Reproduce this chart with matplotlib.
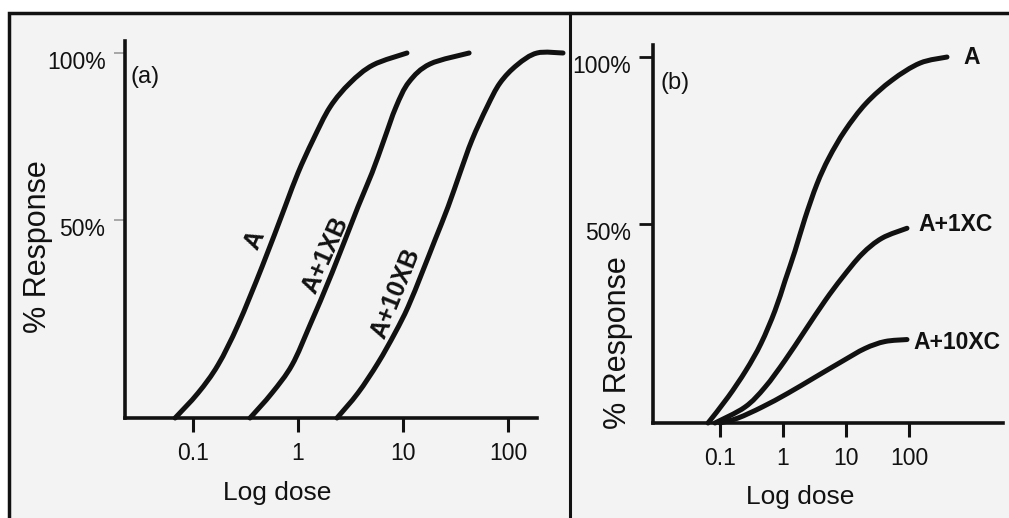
import numpy as np
import matplotlib
matplotlib.use("Agg")
import matplotlib.pyplot as plt
from matplotlib.patches import Rectangle, PathPatch
from matplotlib.lines import Line2D
from matplotlib.path import Path
from matplotlib.transforms import ScaledTranslation

# panel (a): competitive antagonist B, doses
dose_a = [0.0675, 0.1117, 0.173, 0.2683, 0.454, 0.752, 1.0, 1.39, 2.02, 3.13, 5.18, 10.9]
resp_a = [0, 6.31, 13.38, 23.48, 38.13, 53.89, 64.07, 73.95, 83.83, 91.02, 96.41, 100]
dose_b1 = [0.349, 0.565, 0.877, 1.301, 2.109, 3.724, 5.07, 6.59, 8.57, 11.4, 18.07, 42.6]
resp_b1 = [0, 6.31, 13.38, 23.48, 36.62, 53.89, 64.07, 73.95, 83.83, 91.32, 96.71, 100]
dose_b10 = [2.35, 3.724, 5.78, 8.39, 11.17, 15.17, 20.18, 26.85, 34.9, 45.4, 63.1, 83.9, 121.9, 188.8, 334]
resp_b10 = [0, 6.31, 13.89, 21.46, 28.03, 36.62, 44.95, 53.89, 64.07, 73.95, 83.83, 91.02, 96.41, 100, 100]

# panel (b): non-competitive antagonist C
dose_ra = [0.0646, 0.134, 0.2587, 0.4477, 0.746, 1.076, 1.549, 2.234, 3.465, 5.37, 9.64, 20.77, 53.7, 149.5, 401]
resp_ra = [0, 6.5, 13.25, 20, 28.25, 35.75, 43.25, 51.8, 62.05, 69.88, 78.01, 86.14, 93.07, 98.19, 100]
dose_c1 = [0.0834, 0.249, 0.518, 1.076, 2.234, 4.645, 8.65, 17.95, 37.2, 92.9]
resp_c1 = [0, 4, 9, 15.75, 23.25, 30.75, 36.5, 42.5, 46.5, 49]
dose_c10 = [0.1, 0.193, 0.465, 1.2, 3.22, 8.65, 20.0, 41.6, 92.9]
resp_c10 = [0, 1.25, 4, 7.5, 11.5, 15.5, 18.75, 20.5, 21]

xticks = [0.1, 1, 10, 100]
xtick_labels = ["0.1", "1", "10", "100"]
yticks = [50, 100]
ytick_labels = ["50%", "100%"]

font = "Liberation Sans"
ink = "#111111"


# the drawing puts the 50% tick a little above the middle
def fwd(p):
    p = np.asarray(p, dtype=float)
    return np.where(p <= 50, p * 1.086, 54.3 + (p - 50) * 0.914)


def inv(v):
    v = np.asarray(v, dtype=float)
    return np.where(v <= 54.3, v / 1.086, 50 + (v - 54.3) / 0.914)


def curve(ax, dose, resp):
    # smooth bezier through the read points, built in scaled (log / fwd) space
    P = np.column_stack([np.log10(dose), fwd(resp)])
    Q = np.vstack([P[0], P, P[-1]])
    verts = [P[0]]
    codes = [Path.MOVETO]
    for i in range(len(P) - 1):
        c1 = Q[i + 1] + (Q[i + 2] - Q[i]) / 6
        c2 = Q[i + 2] - (Q[i + 3] - Q[i + 1]) / 6
        verts += [c1, c2, Q[i + 2]]
        codes += [Path.CURVE4] * 3
    V = np.array(verts)
    V = np.column_stack([10 ** V[:, 0], inv(V[:, 1])])
    ax.add_patch(PathPatch(Path(V, codes), fill=False, edgecolor=ink, lw=3.6,
                           capstyle="round", joinstyle="round", clip_on=False))


W, H = 1009, 518
fig = plt.figure(figsize=(W / 100, H / 100), dpi=100, facecolor="white")

# outer frame and divider
fig.add_artist(Rectangle((9 / W, -0.05), 1.1, 1 - 13 / H + 0.05, transform=fig.transFigure,
                         facecolor="#f3f3f3", edgecolor=ink, lw=2.5, zorder=0))
fig.add_artist(Line2D([570 / W, 570 / W], [0, 1 - 13 / H], transform=fig.transFigure, color=ink, lw=2.2))


def px_axes(x0, x1, y_bottom, y_top):
    return fig.add_axes([x0 / W, 1 - y_bottom / H, (x1 - x0) / W, (y_bottom - y_top) / H])


def style(ax, xlim, ytick_color, ytick_len, ytick_w):
    ax.set_facecolor("none")
    ax.set_xscale("log")
    ax.set_yscale("function", functions=(fwd, inv))
    ax.set_xlim(*xlim)
    ax.set_ylim(0, 103.6)
    for s in ["top", "right"]:
        ax.spines[s].set_visible(False)
    for s in ["left", "bottom"]:
        ax.spines[s].set_linewidth(2.6)
        ax.spines[s].set_color(ink)
    ax.set_xticks(xticks)
    ax.set_xticklabels(xtick_labels)
    ax.xaxis.set_minor_locator(matplotlib.ticker.NullLocator())
    ax.set_yticks(yticks)
    ax.set_yticklabels(ytick_labels)
    ax.tick_params(axis="x", length=10, width=2.2, color=ink, pad=7)
    ax.tick_params(axis="y", length=ytick_len, width=ytick_w, color=ytick_color, pad=6)
    for lab in ax.get_xticklabels() + ax.get_yticklabels():
        lab.set_fontfamily(font)
        lab.set_fontsize(16.5)
        lab.set_color(ink)
    for lab in ax.get_yticklabels():
        lab.set_transform(lab.get_transform() + ScaledTranslation(0, -0.07, fig.dpi_scale_trans))


lab_kw = dict(fontfamily=font, fontsize=16.5, fontweight="bold", color=ink)
rot_kw = dict(fontfamily=font, fontsize=18, fontweight="bold", color=ink, ha="center", va="center")

# ---- panel (a)
ax1 = px_axes(125, 571, 418, 41)
style(ax1, (0.0225, 398), "#9a9a9a", 8, 1.2)
ax1.spines["bottom"].set_bounds(0.0225, 189)
curve(ax1, dose_a, resp_a)
curve(ax1, dose_b1, resp_b1)
curve(ax1, dose_b10, resp_b10)
ax1.text(0.2915, 0.472, "A", rotation=66, transform=ax1.transAxes, **rot_kw)
ax1.text(0.4485, 0.432, "A+1XB", rotation=66, transform=ax1.transAxes, **rot_kw)
ax1.text(0.6076, 0.3316, "A+10XB", rotation=68, transform=ax1.transAxes, **rot_kw)
ax1.text(0.012, 0.905, "(a)", ha="left", va="center", transform=ax1.transAxes,
         fontfamily=font, fontsize=17, color=ink)
ax1.set_xlabel("Log dose", fontfamily=font, fontsize=19, color=ink, va="center")
ax1.xaxis.set_label_coords(0.341, -0.199)
ax1.set_ylabel("% Response", fontfamily=font, fontsize=22, color=ink, va="center")
ax1.yaxis.set_label_coords(-0.195, 0.4536)

# ---- panel (b)
ax2 = px_axes(653, 1003, 423, 45)
style(ax2, (0.00865, 3105), ink, 10, 2.0)
curve(ax2, dose_ra, resp_ra)
curve(ax2, dose_c1, resp_c1)
curve(ax2, dose_c10, resp_c10)
ax2.text(0.886, 0.966, "A", ha="left", va="center", transform=ax2.transAxes, **lab_kw)
ax2.text(0.757, 0.524, "A+1XC", ha="left", va="center", transform=ax2.transAxes, **lab_kw)
ax2.text(0.743, 0.212, "A+10XC", ha="left", va="center", transform=ax2.transAxes, **lab_kw)
ax2.text(0.02, 0.899, "(b)", ha="left", va="center", transform=ax2.transAxes,
         fontfamily=font, fontsize=17, color=ink)
ax2.set_xlabel("Log dose", fontfamily=font, fontsize=19, color=ink, va="center")
ax2.xaxis.set_label_coords(0.42, -0.196)
ax2.set_ylabel("% Response", fontfamily=font, fontsize=22, color=ink, va="center")
ax2.yaxis.set_label_coords(-0.1, 0.2116)

fig.savefig("out.png", dpi=100, facecolor="white")
